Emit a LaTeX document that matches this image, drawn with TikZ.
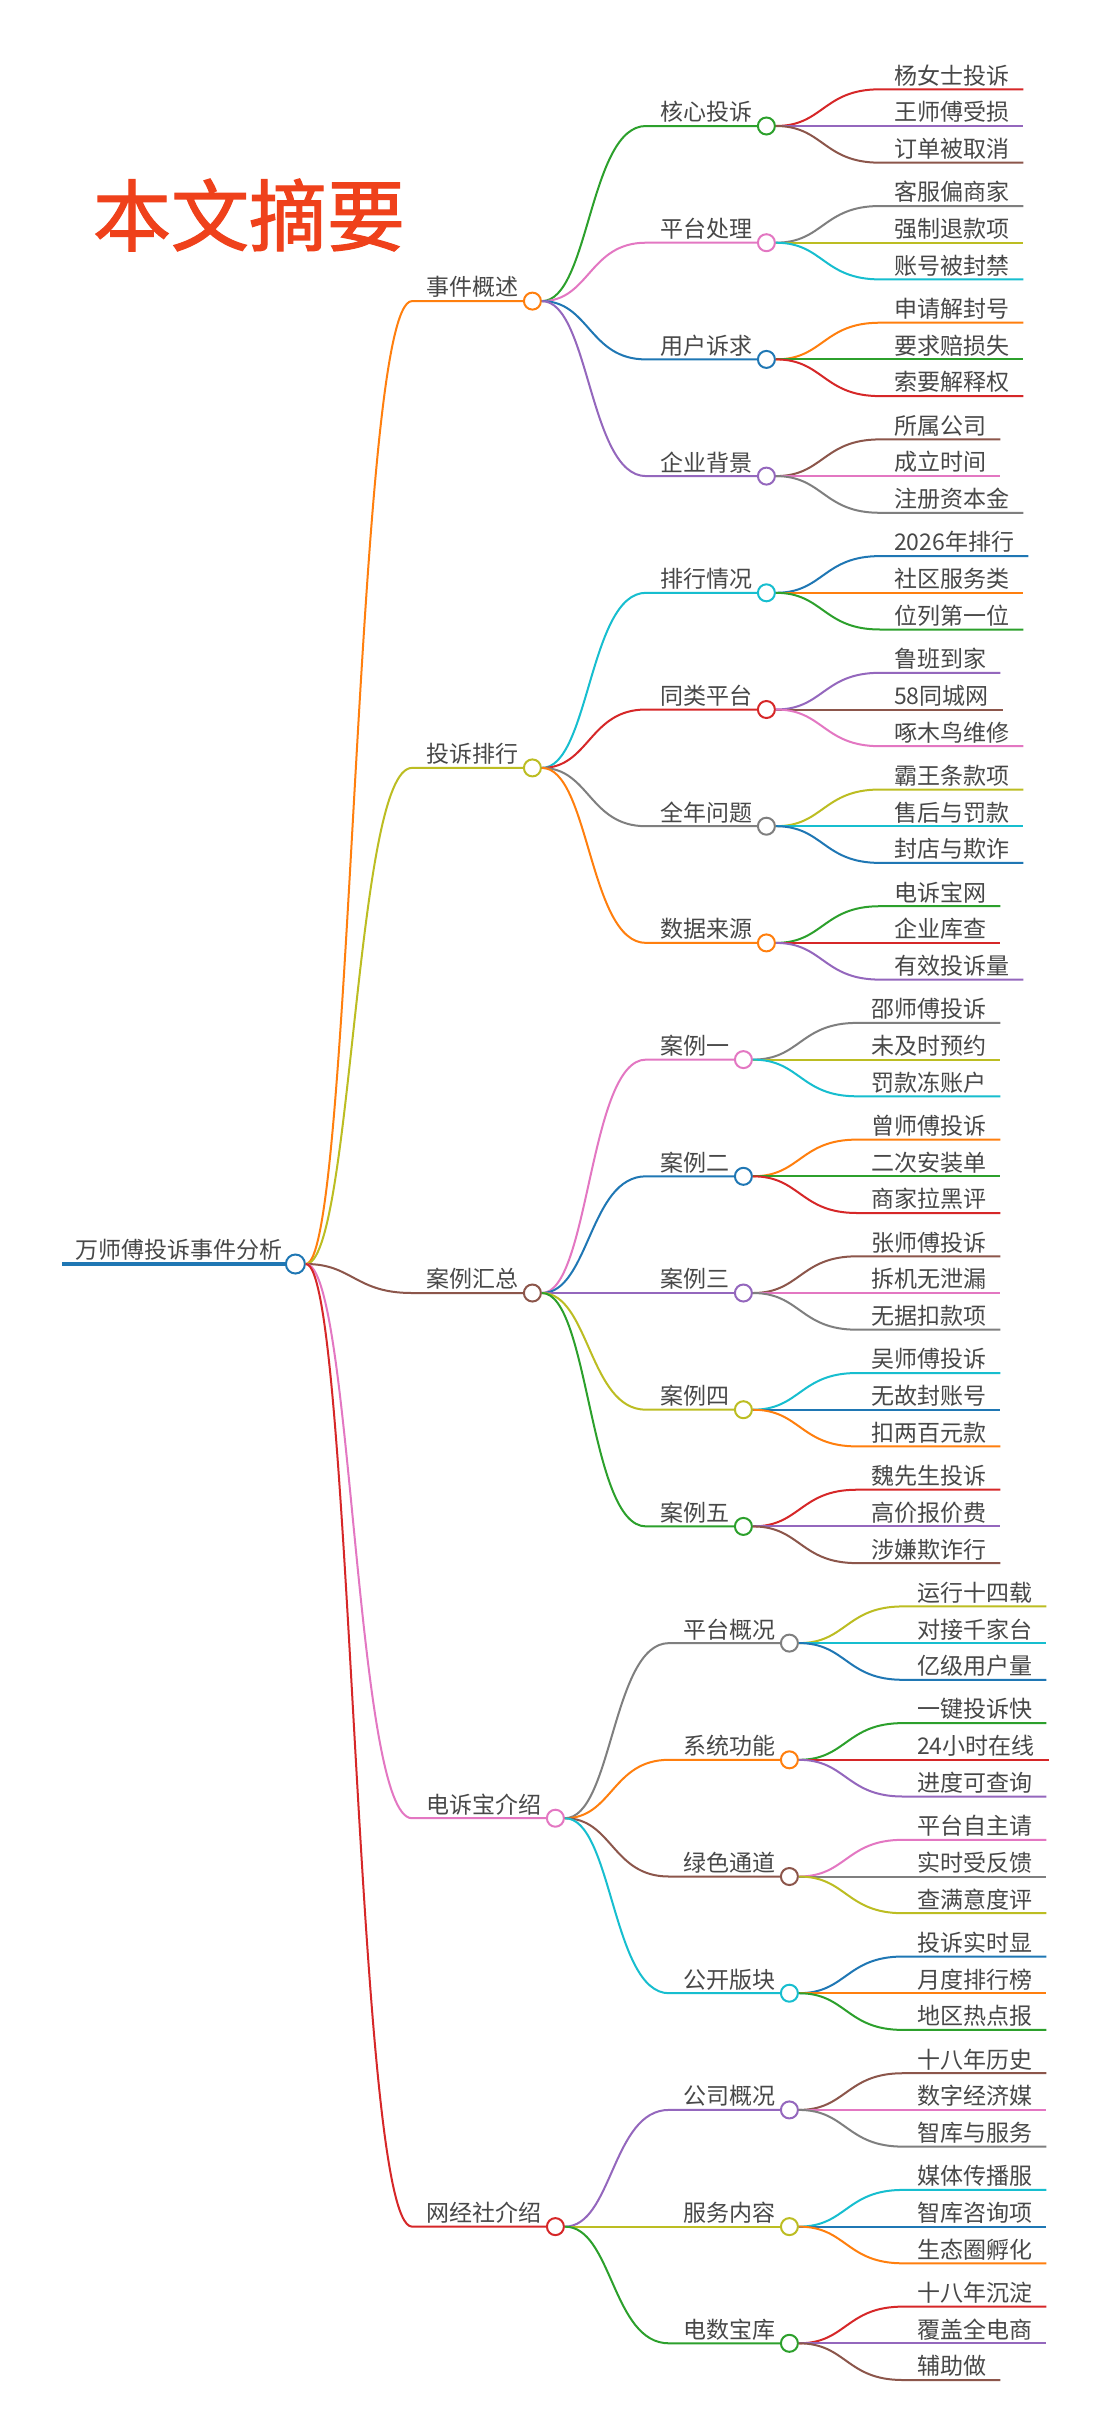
\documentclass[tikz,border=0pt]{standalone}
\usepackage{fontspec}
\usepackage{tikz}
\usetikzlibrary{positioning,calc}
\newfontfamily\cjk{Noto Sans CJK SC}
\newfontfamily\cjkttl{Noto Sans CJK SC}[FakeBold=1.6]
\newcommand\mmfont{\cjk\fontsize{23}{27}\selectfont}
\newcommand\ttlfont{\cjkttl\fontsize{78}{90}\selectfont}
\definecolor{ink}{HTML}{484848}
\definecolor{ttl}{HTML}{EF411B}
\definecolor{mBlue}{HTML}{1F77B4}
\definecolor{mOrange}{HTML}{FF7F0E}
\definecolor{mGreen}{HTML}{2CA02C}
\definecolor{mRed}{HTML}{D62728}
\definecolor{mPurple}{HTML}{9467BD}
\definecolor{mBrown}{HTML}{8C564B}
\definecolor{mPink}{HTML}{E377C2}
\definecolor{mGray}{HTML}{7F7F7F}
\definecolor{mOlive}{HTML}{BCBD22}
\definecolor{mCyan}{HTML}{17BECF}

\begin{document}
\begin{tikzpicture}[x=1pt, y=-1pt,
    txt/.style={anchor=south west, inner xsep=14pt, inner ysep=3pt, font=\mmfont, text=ink},
    dot/.style={circle, draw=#1, fill=white, line width=2pt, minimum size=17pt, inner sep=0pt},
    edge/.style={#1, line width=2pt,
      to path={.. controls +(57,0) and +(-57,0) .. (\tikztotarget)}}]
    \path[use as bounding box, fill=white] (0,0) rectangle (1098,2422);

    % title
    \node[font=\ttlfont, text=ttl] (ttl) at (249,215) {本文摘要};

    % root
    \node[txt, inner xsep=13pt] (r) at (62,1264) {万师傅投诉事件分析};
    \node[dot=mBlue, minimum size=19pt] (r-o) at (r.south east) {};
    \draw[mBlue, line width=3.2pt] (r.south west) -- (r-o);

    % ---------- 事件概述 ----------
    \node[txt] (sj) at (412,301.1) {事件概述};
    \node[dot=mOrange] (sj-o) at (sj.south east) {};
    \draw[edge=mOrange] (r-o) to (sj.south west) -- (sj-o);

    \node[txt] (hx) at (646,126) {核心投诉};
    \node[dot=mGreen] (hx-o) at (hx.south east) {};
    \draw[edge=mGreen] (sj-o) to (hx.south west) -- (hx-o);
    \node[txt] (hx1) at (880,89.3) {杨女士投诉};
    \draw[edge=mRed] (hx-o) to (hx1.south west) -- (hx1.south east);
    \node[txt] (hx2) at (880,126) {王师傅受损};
    \draw[edge=mPurple] (hx-o) to (hx2.south west) -- (hx2.south east);
    \node[txt] (hx3) at (880,162.7) {订单被取消};
    \draw[edge=mBrown] (hx-o) to (hx3.south west) -- (hx3.south east);

    \node[txt] (pt) at (646,242.7) {平台处理};
    \node[dot=mPink] (pt-o) at (pt.south east) {};
    \draw[edge=mPink] (sj-o) to (pt.south west) -- (pt-o);
    \node[txt] (pt1) at (880,206) {客服偏商家};
    \draw[edge=mGray] (pt-o) to (pt1.south west) -- (pt1.south east);
    \node[txt] (pt2) at (880,242.7) {强制退款项};
    \draw[edge=mOlive] (pt-o) to (pt2.south west) -- (pt2.south east);
    \node[txt] (pt3) at (880,279.4) {账号被封禁};
    \draw[edge=mCyan] (pt-o) to (pt3.south west) -- (pt3.south east);

    \node[txt] (yh) at (646,359.4) {用户诉求};
    \node[dot=mBlue] (yh-o) at (yh.south east) {};
    \draw[edge=mBlue] (sj-o) to (yh.south west) -- (yh-o);
    \node[txt] (yh1) at (880,322.7) {申请解封号};
    \draw[edge=mOrange] (yh-o) to (yh1.south west) -- (yh1.south east);
    \node[txt] (yh2) at (880,359.4) {要求赔损失};
    \draw[edge=mGreen] (yh-o) to (yh2.south west) -- (yh2.south east);
    \node[txt] (yh3) at (880,396.1) {索要解释权};
    \draw[edge=mRed] (yh-o) to (yh3.south west) -- (yh3.south east);

    \node[txt] (qy) at (646,476.1) {企业背景};
    \node[dot=mPurple] (qy-o) at (qy.south east) {};
    \draw[edge=mPurple] (sj-o) to (qy.south west) -- (qy-o);
    \node[txt] (qy1) at (880,439.4) {所属公司};
    \draw[edge=mBrown] (qy-o) to (qy1.south west) -- (qy1.south east);
    \node[txt] (qy2) at (880,476.1) {成立时间};
    \draw[edge=mPink] (qy-o) to (qy2.south west) -- (qy2.south east);
    \node[txt] (qy3) at (880,512.8) {注册资本金};
    \draw[edge=mGray] (qy-o) to (qy3.south west) -- (qy3.south east);

    % ---------- 投诉排行 ----------
    \node[txt] (ts) at (412,767.9) {投诉排行};
    \node[dot=mOlive] (ts-o) at (ts.south east) {};
    \draw[edge=mOlive] (r-o) to (ts.south west) -- (ts-o);

    \node[txt] (ph) at (646,592.8) {排行情况};
    \node[dot=mCyan] (ph-o) at (ph.south east) {};
    \draw[edge=mCyan] (ts-o) to (ph.south west) -- (ph-o);
    \node[txt] (ph1) at (880,556.1) {2026年排行};
    \draw[edge=mBlue] (ph-o) to (ph1.south west) -- (ph1.south east);
    \node[txt] (ph2) at (880,592.8) {社区服务类};
    \draw[edge=mOrange] (ph-o) to (ph2.south west) -- (ph2.south east);
    \node[txt] (ph3) at (880,629.5) {位列第一位};
    \draw[edge=mGreen] (ph-o) to (ph3.south west) -- (ph3.south east);

    \node[txt] (tl) at (646,709.5) {同类平台};
    \node[dot=mRed] (tl-o) at (tl.south east) {};
    \draw[edge=mRed] (ts-o) to (tl.south west) -- (tl-o);
    \node[txt] (tl1) at (880,672.8) {鲁班到家};
    \draw[edge=mPurple] (tl-o) to (tl1.south west) -- (tl1.south east);
    \node[txt] (tl2) at (880,709.5) {58同城网};
    \draw[edge=mBrown] (tl-o) to (tl2.south west) -- (tl2.south east);
    \node[txt] (tl3) at (880,746.2) {啄木鸟维修};
    \draw[edge=mPink] (tl-o) to (tl3.south west) -- (tl3.south east);

    \node[txt] (qn) at (646,826.2) {全年问题};
    \node[dot=mGray] (qn-o) at (qn.south east) {};
    \draw[edge=mGray] (ts-o) to (qn.south west) -- (qn-o);
    \node[txt] (qn1) at (880,789.5) {霸王条款项};
    \draw[edge=mOlive] (qn-o) to (qn1.south west) -- (qn1.south east);
    \node[txt] (qn2) at (880,826.2) {售后与罚款};
    \draw[edge=mCyan] (qn-o) to (qn2.south west) -- (qn2.south east);
    \node[txt] (qn3) at (880,862.9) {封店与欺诈};
    \draw[edge=mBlue] (qn-o) to (qn3.south west) -- (qn3.south east);

    \node[txt] (sy) at (646,942.9) {数据来源};
    \node[dot=mOrange] (sy-o) at (sy.south east) {};
    \draw[edge=mOrange] (ts-o) to (sy.south west) -- (sy-o);
    \node[txt] (sy1) at (880,906.2) {电诉宝网};
    \draw[edge=mGreen] (sy-o) to (sy1.south west) -- (sy1.south east);
    \node[txt] (sy2) at (880,942.9) {企业库查};
    \draw[edge=mRed] (sy-o) to (sy2.south west) -- (sy2.south east);
    \node[txt] (sy3) at (880,979.6) {有效投诉量};
    \draw[edge=mPurple] (sy-o) to (sy3.south west) -- (sy3.south east);

    % ---------- 案例汇总 ----------
    \node[txt] (al) at (412,1293) {案例汇总};
    \node[dot=mBrown] (al-o) at (al.south east) {};
    \draw[edge=mBrown] (r-o) to (al.south west) -- (al-o);

    \node[txt] (ka) at (646,1059.6) {案例一};
    \node[dot=mPink] (ka-o) at (ka.south east) {};
    \draw[edge=mPink] (al-o) to (ka.south west) -- (ka-o);
    \node[txt] (ka1) at (857,1022.9) {邵师傅投诉};
    \draw[edge=mGray] (ka-o) to (ka1.south west) -- (ka1.south east);
    \node[txt] (ka2) at (857,1059.6) {未及时预约};
    \draw[edge=mOlive] (ka-o) to (ka2.south west) -- (ka2.south east);
    \node[txt] (ka3) at (857,1096.3) {罚款冻账户};
    \draw[edge=mCyan] (ka-o) to (ka3.south west) -- (ka3.south east);

    \node[txt] (kb) at (646,1176.3) {案例二};
    \node[dot=mBlue] (kb-o) at (kb.south east) {};
    \draw[edge=mBlue] (al-o) to (kb.south west) -- (kb-o);
    \node[txt] (kb1) at (857,1139.6) {曾师傅投诉};
    \draw[edge=mOrange] (kb-o) to (kb1.south west) -- (kb1.south east);
    \node[txt] (kb2) at (857,1176.3) {二次安装单};
    \draw[edge=mGreen] (kb-o) to (kb2.south west) -- (kb2.south east);
    \node[txt] (kb3) at (857,1213) {商家拉黑评};
    \draw[edge=mRed] (kb-o) to (kb3.south west) -- (kb3.south east);

    \node[txt] (kc) at (646,1293) {案例三};
    \node[dot=mPurple] (kc-o) at (kc.south east) {};
    \draw[edge=mPurple] (al-o) to (kc.south west) -- (kc-o);
    \node[txt] (kc1) at (857,1256.3) {张师傅投诉};
    \draw[edge=mBrown] (kc-o) to (kc1.south west) -- (kc1.south east);
    \node[txt] (kc2) at (857,1293) {拆机无泄漏};
    \draw[edge=mPink] (kc-o) to (kc2.south west) -- (kc2.south east);
    \node[txt] (kc3) at (857,1329.7) {无据扣款项};
    \draw[edge=mGray] (kc-o) to (kc3.south west) -- (kc3.south east);

    \node[txt] (kd) at (646,1409.7) {案例四};
    \node[dot=mOlive] (kd-o) at (kd.south east) {};
    \draw[edge=mOlive] (al-o) to (kd.south west) -- (kd-o);
    \node[txt] (kd1) at (857,1373) {吴师傅投诉};
    \draw[edge=mCyan] (kd-o) to (kd1.south west) -- (kd1.south east);
    \node[txt] (kd2) at (857,1409.7) {无故封账号};
    \draw[edge=mBlue] (kd-o) to (kd2.south west) -- (kd2.south east);
    \node[txt] (kd3) at (857,1446.4) {扣两百元款};
    \draw[edge=mOrange] (kd-o) to (kd3.south west) -- (kd3.south east);

    \node[txt] (ke) at (646,1526.4) {案例五};
    \node[dot=mGreen] (ke-o) at (ke.south east) {};
    \draw[edge=mGreen] (al-o) to (ke.south west) -- (ke-o);
    \node[txt] (ke1) at (857,1489.7) {魏先生投诉};
    \draw[edge=mRed] (ke-o) to (ke1.south west) -- (ke1.south east);
    \node[txt] (ke2) at (857,1526.4) {高价报价费};
    \draw[edge=mPurple] (ke-o) to (ke2.south west) -- (ke2.south east);
    \node[txt] (ke3) at (857,1563.1) {涉嫌欺诈行};
    \draw[edge=mBrown] (ke-o) to (ke3.south west) -- (ke3.south east);

    % ---------- 电诉宝介绍 ----------
    \node[txt] (dsb) at (412,1818.2) {电诉宝介绍};
    \node[dot=mPink] (dsb-o) at (dsb.south east) {};
    \draw[edge=mPink] (r-o) to (dsb.south west) -- (dsb-o);

    \node[txt] (gk) at (669,1643.1) {平台概况};
    \node[dot=mGray] (gk-o) at (gk.south east) {};
    \draw[edge=mGray] (dsb-o) to (gk.south west) -- (gk-o);
    \node[txt] (gk1) at (903,1606.4) {运行十四载};
    \draw[edge=mOlive] (gk-o) to (gk1.south west) -- (gk1.south east);
    \node[txt] (gk2) at (903,1643.1) {对接千家台};
    \draw[edge=mCyan] (gk-o) to (gk2.south west) -- (gk2.south east);
    \node[txt] (gk3) at (903,1679.8) {亿级用户量};
    \draw[edge=mBlue] (gk-o) to (gk3.south west) -- (gk3.south east);

    \node[txt] (xt) at (669,1759.8) {系统功能};
    \node[dot=mOrange] (xt-o) at (xt.south east) {};
    \draw[edge=mOrange] (dsb-o) to (xt.south west) -- (xt-o);
    \node[txt] (xt1) at (903,1723.1) {一键投诉快};
    \draw[edge=mGreen] (xt-o) to (xt1.south west) -- (xt1.south east);
    \node[txt] (xt2) at (903,1759.8) {24小时在线};
    \draw[edge=mRed] (xt-o) to (xt2.south west) -- (xt2.south east);
    \node[txt] (xt3) at (903,1796.5) {进度可查询};
    \draw[edge=mPurple] (xt-o) to (xt3.south west) -- (xt3.south east);

    \node[txt] (ls) at (669,1876.5) {绿色通道};
    \node[dot=mBrown] (ls-o) at (ls.south east) {};
    \draw[edge=mBrown] (dsb-o) to (ls.south west) -- (ls-o);
    \node[txt] (ls1) at (903,1839.8) {平台自主请};
    \draw[edge=mPink] (ls-o) to (ls1.south west) -- (ls1.south east);
    \node[txt] (ls2) at (903,1876.5) {实时受反馈};
    \draw[edge=mGray] (ls-o) to (ls2.south west) -- (ls2.south east);
    \node[txt] (ls3) at (903,1913.2) {查满意度评};
    \draw[edge=mOlive] (ls-o) to (ls3.south west) -- (ls3.south east);

    \node[txt] (gb) at (669,1993.2) {公开版块};
    \node[dot=mCyan] (gb-o) at (gb.south east) {};
    \draw[edge=mCyan] (dsb-o) to (gb.south west) -- (gb-o);
    \node[txt] (gb1) at (903,1956.5) {投诉实时显};
    \draw[edge=mBlue] (gb-o) to (gb1.south west) -- (gb1.south east);
    \node[txt] (gb2) at (903,1993.2) {月度排行榜};
    \draw[edge=mOrange] (gb-o) to (gb2.south west) -- (gb2.south east);
    \node[txt] (gb3) at (903,2029.9) {地区热点报};
    \draw[edge=mGreen] (gb-o) to (gb3.south west) -- (gb3.south east);

    % ---------- 网经社介绍 ----------
    \node[txt] (wjs) at (412,2226.6) {网经社介绍};
    \node[dot=mRed] (wjs-o) at (wjs.south east) {};
    \draw[edge=mRed] (r-o) to (wjs.south west) -- (wjs-o);

    \node[txt] (gs) at (669,2109.9) {公司概况};
    \node[dot=mPurple] (gs-o) at (gs.south east) {};
    \draw[edge=mPurple] (wjs-o) to (gs.south west) -- (gs-o);
    \node[txt] (gs1) at (903,2073.2) {十八年历史};
    \draw[edge=mBrown] (gs-o) to (gs1.south west) -- (gs1.south east);
    \node[txt] (gs2) at (903,2109.9) {数字经济媒};
    \draw[edge=mPink] (gs-o) to (gs2.south west) -- (gs2.south east);
    \node[txt] (gs3) at (903,2146.6) {智库与服务};
    \draw[edge=mGray] (gs-o) to (gs3.south west) -- (gs3.south east);

    \node[txt] (fw) at (669,2226.6) {服务内容};
    \node[dot=mOlive] (fw-o) at (fw.south east) {};
    \draw[edge=mOlive] (wjs-o) to (fw.south west) -- (fw-o);
    \node[txt] (fw1) at (903,2189.9) {媒体传播服};
    \draw[edge=mCyan] (fw-o) to (fw1.south west) -- (fw1.south east);
    \node[txt] (fw2) at (903,2226.6) {智库咨询项};
    \draw[edge=mBlue] (fw-o) to (fw2.south west) -- (fw2.south east);
    \node[txt] (fw3) at (903,2263.3) {生态圈孵化};
    \draw[edge=mOrange] (fw-o) to (fw3.south west) -- (fw3.south east);

    \node[txt] (ds) at (669,2343.3) {电数宝库};
    \node[dot=mGreen] (ds-o) at (ds.south east) {};
    \draw[edge=mGreen] (wjs-o) to (ds.south west) -- (ds-o);
    \node[txt] (ds1) at (903,2306.6) {十八年沉淀};
    \draw[edge=mRed] (ds-o) to (ds1.south west) -- (ds1.south east);
    \node[txt] (ds2) at (903,2343.3) {覆盖全电商};
    \draw[edge=mPurple] (ds-o) to (ds2.south west) -- (ds2.south east);
    \node[txt] (ds3) at (903,2380) {辅助做};
    \draw[edge=mBrown] (ds-o) to (ds3.south west) -- (ds3.south east);
\end{tikzpicture}
\end{document}
